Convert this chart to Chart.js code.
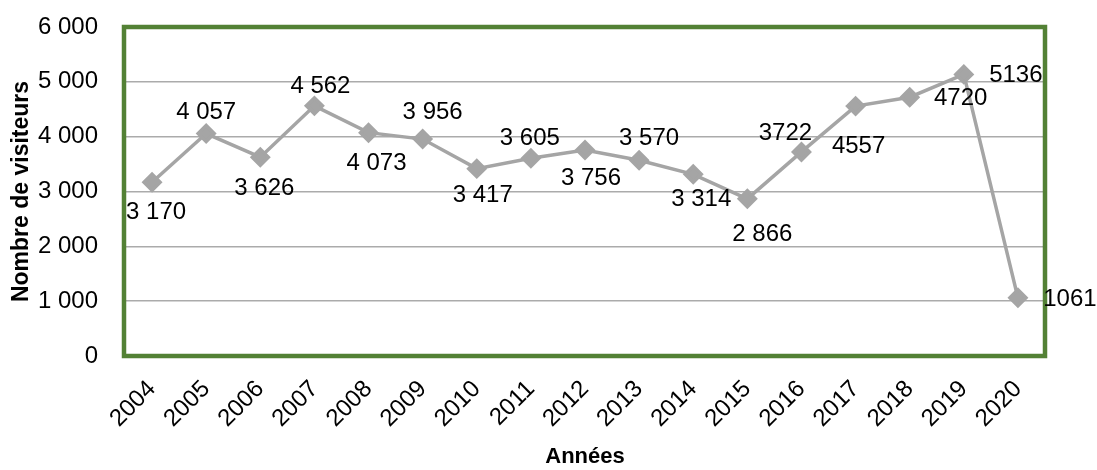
<!DOCTYPE html>
<html>
<head>
<meta charset="utf-8">
<script src="https://cdn.jsdelivr.net/npm/chart.js@4"></script>
<style>
    html, body { margin: 0; padding: 0; background: #fff; }
    #wrap { width: 1097px; height: 470px; }
</style>
</head>
<body>
<div id="wrap"><canvas id="visits-chart"></canvas></div>
<script>
const years = ["2004", "2005", "2006", "2007", "2008", "2009", "2010", "2011", "2012",
    "2013", "2014", "2015", "2016", "2017", "2018", "2019", "2020"];
const visitors = [3170, 4057, 3626, 4562, 4073, 3956, 3417, 3605, 3756,
    3570, 3314, 2866, 3722, 4557, 4720, 5136, 1061];
// labels up to 2015 use a thousands space, later ones don't
const lastSpacedYear = "2015";
const yTicks = [0, 1000, 2000, 3000, 4000, 5000, 6000];

// where each value label sits relative to its point (px)
const labelOffsets = [
    [4, 30], [0, -21], [4, 31], [6, -19], [8, 31], [10, -27], [6, 27], [-1, -20], [6, 28],
    [10, -22], [8, 25], [15, 36], [-16, -19], [3, 40], [51, 1], [52, 1], [52, 2]
];

const FONT = "'Liberation Sans', Arial, sans-serif";
const C_LINE = "#A5A5A5";
const C_FRAME = "#538135";

function spaced(v) {
    const s = String(v);
    return s.length > 3 ? s.slice(0, -3) + " " + s.slice(-3) : s;
}

function valueLabel(i) {
    return years[i] <= lastSpacedYear ? spaced(visitors[i]) : String(visitors[i]);
}

const valueLabels = {
    id: "valueLabels",
    afterDatasetsDraw(chart) {
        const ctx = chart.ctx;
        const meta = chart.getDatasetMeta(0);
        ctx.save();
        ctx.font = "24px " + FONT;
        ctx.fillStyle = "#000";
        ctx.textAlign = "center";
        ctx.textBaseline = "middle";
        meta.data.forEach((pt, i) => {
            const [dx, dy] = labelOffsets[i];
            ctx.fillText(valueLabel(i), pt.x + dx, pt.y + dy);
        });
        ctx.restore();
    }
};

const plotFrame = {
    id: "plotFrame",
    beforeDatasetsDraw(chart) {
        const {ctx, chartArea: a} = chart;
        ctx.save();
        ctx.strokeStyle = C_FRAME;
        ctx.lineWidth = 4.5;
        ctx.strokeRect(a.left - 1, a.top, a.right - a.left + 1, a.bottom - a.top);
        ctx.restore();
    }
};

Chart.defaults.font.family = FONT;
Chart.defaults.color = "#000";

new Chart(document.getElementById("visits-chart").getContext("2d"), {
    type: "line",
    data: {
        labels: years,
        datasets: [{
            data: visitors,
            borderColor: C_LINE,
            backgroundColor: C_LINE,
            borderWidth: 3.5,
            pointStyle: "rectRot",
            pointRadius: 8,
            pointBackgroundColor: C_LINE,
            pointBorderColor: C_LINE,
            tension: 0,
            clip: false
        }]
    },
    options: {
        responsive: true,
        maintainAspectRatio: false,
        animation: false,
        layout: {padding: {left: 0, right: 52, top: 27, bottom: 0}},
        scales: {
            x: {
                offset: true,
                grid: {display: false, drawTicks: false},
                border: {display: false},
                ticks: {
                    minRotation: 45,
                    maxRotation: 45,
                    padding: 19,
                    font: {size: 24}
                },
                title: {
                    display: true,
                    text: "Années",
                    font: {size: 22, weight: "bold"},
                    padding: {top: 0, bottom: 0}
                },
                afterFit: (s) => {
                    s.height = 114;
                    s.paddingLeft = 0;
                    s.paddingRight = 0;
                }
            },
            y: {
                min: 0,
                max: 6000,
                afterBuildTicks: (s) => { s.ticks = yTicks.map(v => ({value: v})); },
                grid: {
                    color: (c) => (c.tick.value === 0 || c.tick.value === 6000) ? "rgba(0,0,0,0)" : "#ABABAB",
                    lineWidth: 1.5,
                    drawTicks: false
                },
                border: {display: false},
                ticks: {
                    padding: 27,
                    font: {size: 24},
                    callback: (v) => spaced(v)
                },
                title: {
                    display: true,
                    text: "Nombre de visiteurs",
                    font: {size: 23, weight: "bold"},
                    padding: {top: 8, bottom: 0}
                },
                afterFit: (s) => {
                    s.width = 125;
                    s.paddingTop = 0;
                    s.paddingBottom = 0;
                }
            }
        },
        plugins: {
            legend: {display: false},
            tooltip: {enabled: false}
        }
    },
    plugins: [plotFrame, valueLabels]
});
</script>
</body>
</html>
